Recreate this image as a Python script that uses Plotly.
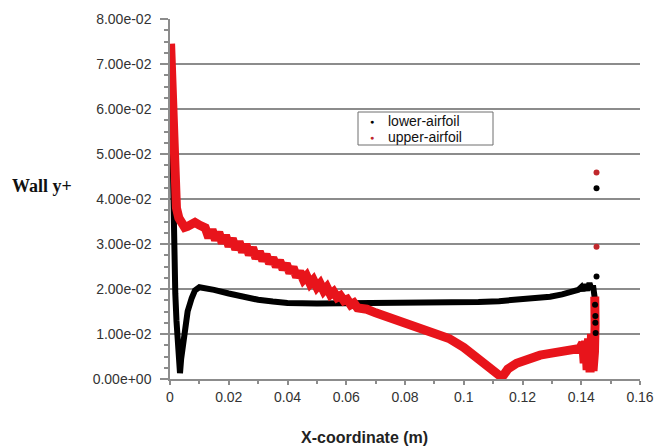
import plotly.graph_objects as go

# ---- data ----
lower_x = [0.0002, 0.0004, 0.0006, 0.0008, 0.0011, 0.0014, 0.0018, 0.0022, 0.0026, 0.0030, 0.0034,
           0.0038, 0.0044, 0.0051, 0.0060, 0.0074, 0.0085, 0.0100, 0.0125, 0.0150, 0.0200, 0.0250,
           0.0300, 0.0350, 0.0400, 0.0500, 0.0600, 0.0700, 0.0800, 0.0900, 0.0953, 0.1050, 0.1120,
           0.1180, 0.1245, 0.1294, 0.1335, 0.1373, 0.1390, 0.1400, 0.1405, 0.1412, 0.1420, 0.1428,
           0.1435, 0.1440, 0.1445, 0.1447, 0.1447, 0.1448, 0.1449]
lower_y = [0.0735, 0.0660, 0.0560, 0.0450, 0.0350, 0.0260, 0.0190, 0.0130, 0.0080, 0.0040, 0.0013,
           0.0045, 0.0080, 0.0105, 0.0150, 0.0180, 0.0197, 0.0204, 0.0202, 0.0198, 0.0190, 0.0182,
           0.0176, 0.0172, 0.0169, 0.0168, 0.0168, 0.0168, 0.0168, 0.0168, 0.0169, 0.0171, 0.0173,
           0.0176, 0.0179, 0.0183, 0.0188, 0.0194, 0.0198, 0.0204, 0.0196, 0.0210, 0.0197, 0.0213,
           0.0199, 0.0208, 0.0192, 0.0175, 0.0150, 0.0125, 0.0102]

upper_x = [0.0002, 0.0005, 0.0008, 0.0010, 0.0013, 0.0017, 0.0022, 0.0030, 0.0040, 0.0050, 0.0060,
           0.0072, 0.0085, 0.0100, 0.0110,
           0.0120, 0.0132, 0.0143, 0.0155, 0.0166, 0.0178, 0.0189, 0.0201, 0.0212, 0.0224, 0.0235,
           0.0247, 0.0258, 0.0270, 0.0281, 0.0293, 0.0304, 0.0316, 0.0327, 0.0339, 0.0350, 0.0362,
           0.0373, 0.0385, 0.0396, 0.0408, 0.0419, 0.0431, 0.0442, 0.0454, 0.0465, 0.0477, 0.0488,
           0.0500, 0.0511, 0.0523, 0.0534, 0.0546, 0.0557, 0.0569, 0.0580, 0.0592, 0.0603, 0.0615,
           0.0626, 0.0638,
           0.0670, 0.0700, 0.0750, 0.0800, 0.0850, 0.0900, 0.0950, 0.1000, 0.1040, 0.1080, 0.1110,
           0.1129, 0.1135, 0.1150, 0.1180, 0.1220, 0.1260, 0.1294, 0.1330, 0.1370, 0.1395,
           0.1405, 0.1410, 0.1415, 0.1420, 0.1425, 0.1430, 0.1435, 0.1440, 0.1445, 0.1447, 0.1447,
           0.1446]
upper_y = [0.0745, 0.0680, 0.0600, 0.0520, 0.0460, 0.0410, 0.0380, 0.0358, 0.0345, 0.0337, 0.0339,
           0.0345, 0.0348, 0.0342, 0.0336,
           0.0336, 0.0314, 0.0332, 0.0309, 0.0326, 0.0302, 0.0319, 0.0295, 0.0312, 0.0288, 0.0305,
           0.0282, 0.0299, 0.0276, 0.0292, 0.0268, 0.0283, 0.0263, 0.0276, 0.0257, 0.0269, 0.0250,
           0.0263, 0.0244, 0.0256, 0.0236, 0.0248, 0.0227, 0.0239, 0.0221, 0.0229, 0.0212, 0.0220,
           0.0204, 0.0212, 0.0196, 0.0204, 0.0188, 0.0194, 0.0181, 0.0185, 0.0174, 0.0177, 0.0165,
           0.0169, 0.0158,
           0.0155, 0.0147, 0.0135, 0.0123, 0.0112, 0.0101, 0.0090, 0.0070, 0.0050, 0.0030, 0.0014,
           0.0004, 0.0008, 0.0022, 0.0035, 0.0046, 0.0053, 0.0057, 0.0061, 0.0065, 0.0068,
           0.0080, 0.0035, 0.0085, 0.0020, 0.0090, 0.0015, 0.0100, 0.0018, 0.0060, 0.0120, 0.0160,
           0.0183]

# scattered points along the trailing edge
lower_edge_x = [0.1447, 0.1448, 0.1448, 0.1449, 0.1452, 0.1452]
lower_edge_y = [0.0165, 0.0140, 0.0125, 0.0102, 0.0424, 0.0228]
upper_out_x = [0.1452, 0.1452]
upper_out_y = [0.0459, 0.0294]

y_ticks = [0.00, 0.01, 0.02, 0.03, 0.04, 0.05, 0.06, 0.07, 0.08]
y_labels = ["0.00e+00", "1.00e-02", "2.00e-02", "3.00e-02", "4.00e-02",
            "5.00e-02", "6.00e-02", "7.00e-02", "8.00e-02"]
x_ticks = [0, 0.02, 0.04, 0.06, 0.08, 0.1, 0.12, 0.14, 0.16]
x_labels = ["0", "0.02", "0.04", "0.06", "0.08", "0.1", "0.12", "0.14", "0.16"]
series_names = ["lower-airfoil", "upper-airfoil"]

BLACK = "#000000"
RED = "#e8141b"
DOT_RED = "#c0282c"

# plot area in pixels
L, R, T, B = 170, 640, 19, 379
def px(xp, yp):
    return (xp - L) / float(R - L), (B - yp) / float(B - T)

fig = go.Figure()
fig.add_trace(go.Scatter(x=lower_x, y=lower_y, mode="lines", name=series_names[0], showlegend=False,
                         line=dict(color=BLACK, width=6), hoverinfo="skip"))
fig.add_trace(go.Scatter(x=upper_x, y=upper_y, mode="lines", name=series_names[1], showlegend=False,
                         line=dict(color=RED, width=9), hoverinfo="skip"))
fig.add_trace(go.Scatter(x=lower_edge_x, y=lower_edge_y, mode="markers", name=series_names[0],
                         showlegend=False, marker=dict(color=BLACK, size=6)))
fig.add_trace(go.Scatter(x=upper_out_x, y=upper_out_y, mode="markers", name=series_names[1],
                         showlegend=False, marker=dict(color=DOT_RED, size=6)))

tick_font = dict(family="Liberation Sans, Arial, sans-serif", size=14, color="#333333")

ann = []
ax_, ay_ = px(42, 186)
ann.append(dict(text="<b>Wall y+</b>", x=ax_, y=ay_, xref="paper", yref="paper", showarrow=False,
                xanchor="center", yanchor="middle",
                font=dict(family="Liberation Serif, Times New Roman, serif", size=18, color="#111111")))
bx_, by_ = px(364, 437)
ann.append(dict(text="<b>X-coordinate (m)</b>", x=bx_, y=by_, xref="paper", yref="paper",
                showarrow=False, xanchor="center", yanchor="middle",
                font=dict(family="Liberation Sans, Arial, sans-serif", size=16, color="#222222")))
# legend (compact box, as in the reference)
leg_font = dict(family="Liberation Sans, Arial, sans-serif", size=14, color="#111111")
for name, col, ypx in [(series_names[0], BLACK, 121.0), (series_names[1], DOT_RED, 136.5)]:
    dx, dy = px(372, ypx + 0.5)
    ann.append(dict(text="●", x=dx, y=dy, xref="paper", yref="paper", showarrow=False,
                    xanchor="center", yanchor="middle", font=dict(size=7, color=col)))
    tx, ty = px(386, ypx)
    ann.append(dict(text=name, x=tx, y=ty, xref="paper", yref="paper", showarrow=False,
                    xanchor="left", yanchor="middle", font=leg_font))

x0, y0 = px(358, 145)
x1, y1 = px(493, 112)
shapes = [dict(type="rect", xref="paper", yref="paper", x0=x0, y0=y0, x1=x1, y1=y1,
               line=dict(color="#6f6f6f", width=1), fillcolor="rgba(255,255,255,0)", layer="above")]

fig.update_layout(
    width=654, height=447,
    margin=dict(l=L, r=654 - R, t=T, b=447 - B, autoexpand=False),
    paper_bgcolor="white", plot_bgcolor="white",
    showlegend=False,
    annotations=ann,
    shapes=shapes,
)

fig.update_xaxes(range=[0, 0.16], tickvals=x_ticks, ticktext=x_labels, showgrid=False,
                 zeroline=False, showline=True, linecolor="#8c8c8c", linewidth=1.5,
                 ticks="outside", ticklen=4, tickcolor="#8c8c8c", tickwidth=1.5,
                 minor=dict(tickvals=[0.01, 0.03, 0.05, 0.07, 0.09, 0.11, 0.13, 0.15],
                            ticks="outside", ticklen=3, tickcolor="#8c8c8c"),
                 tickfont=tick_font, ticklabelstandoff=0, automargin=False)
fig.update_yaxes(range=[0, 0.08], tickvals=y_ticks, ticktext=y_labels, showgrid=True,
                 gridcolor="#8c8c8c", gridwidth=1.5, zeroline=False, showline=True,
                 linecolor="#8c8c8c", linewidth=1.5,
                 ticks="outside", ticklen=8, tickcolor="#8c8c8c", tickwidth=1.5,
                 minor=dict(dtick=0.0025, ticks="outside", ticklen=4, tickcolor="#8c8c8c"),
                 tickfont=tick_font, ticklabelstandoff=6, automargin=False)

fig.write_html("out.html", config=dict(displayModeBar=False))
